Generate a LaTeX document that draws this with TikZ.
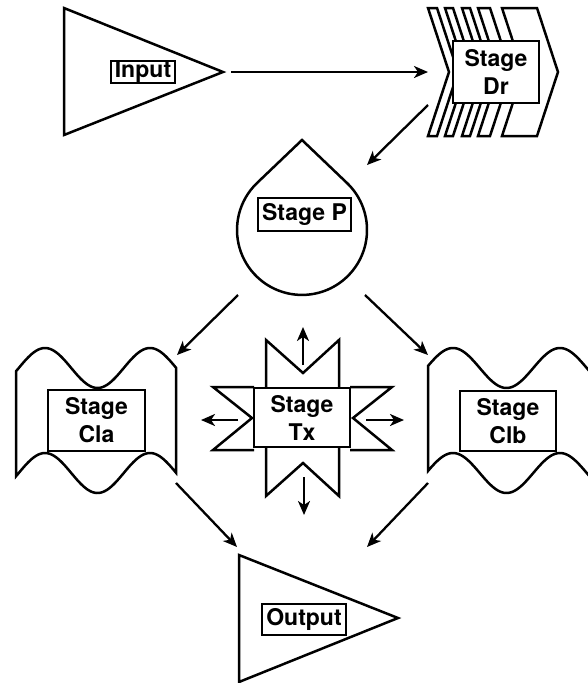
\documentclass[tikz,border=0pt]{standalone}
\usepackage{fontspec}
\setmainfont{TeX Gyre Heros}
\usetikzlibrary{arrows.meta}
\begin{document}
\begin{tikzpicture}[x=1pt,y=-1pt, line join=miter,
  shp/.style={draw=black, line width=2.5pt, fill=white},
  lbl/.style={draw=black, line width=2.5pt, fill=white, inner sep=0pt, align=center,
              font=\fontsize{23}{28}\selectfont\bfseries},
  arr/.style={line width=2.3pt, -{Stealth[length=14pt,width=12pt,inset=4pt]}}]
\useasboundingbox (0,0) rectangle (587,683);

% Input
\draw[shp] (64,8) -- (223,72) -- (64,135) -- cycle;
\node[lbl, minimum width=64, minimum height=21] (input) at (143,72) {Input};

% Stage Dr
\foreach \l/\r in {428/437,445/453,462/470,478/490,502/537}
  \draw[shp] (\l,8) -- (\r,8) -- ({\r+21},72) -- (\r,136) -- (\l,136) -- ({\l+21},72) -- cycle;
\node[lbl, minimum width=86, minimum height=62] (dr) at (496,72) {Stage\\Dr};

% Stage P
\draw[shp] (302,140) -- (347,183) arc[start angle=-46.2, end angle=226.2, radius=65] -- cycle;
\node[lbl, minimum width=93, minimum height=33] (p) at (304.5,214.5) {Stage P};

% Stage Cla
\draw[shp] plot[domain=16:176, samples=80] (\x,{368-20*cos((\x-45)*3.428571)})
  -- plot[domain=176:16, samples=80] (\x,{473-20*cos((\x-45)*3.428571)}) -- cycle;
\node[lbl, minimum width=97, minimum height=61] (cla) at (96.5,420.5) {Stage\\Cla};

% Stage Clb
\draw[shp] plot[domain=428:590, samples=80] (\x,{368-20*cos((\x-453)*3.364486)})
  -- plot[domain=590:428, samples=80] (\x,{473-20*cos((\x-453)*3.364486)}) -- cycle;
\node[lbl, minimum width=96, minimum height=60] (clb) at (508,421) {Stage\\Clb};

% Stage Tx
\draw[shp] (266,388) -- (266,340) -- (303,373) -- (339,340) -- (339,388);
\draw[shp] (254,387) -- (213,387) -- (252,418) -- (213,450) -- (254,450);
\draw[shp] (350,387) -- (392,387) -- (353,418) -- (392,450) -- (350,450);
\draw[shp] (266,447) -- (266,496) -- (303,463) -- (339,496) -- (339,447);
\node[lbl, minimum width=96, minimum height=59] (tx) at (302,417.5) {Stage\\Tx};

% Output
\draw[shp] (239,555) -- (398,618) -- (239,682) -- cycle;
\node[lbl, minimum width=84, minimum height=31] (output) at (304,619.5) {Output};

% connector end points
\coordinate (inR) at (231,72);   \coordinate (drL) at (428,72);
\coordinate (drB) at (428,105);  \coordinate (pT) at (367,165);
\coordinate (pBL) at (238,295);  \coordinate (claT) at (177,355);
\coordinate (pBR) at (365,295);  \coordinate (clbT) at (428,355);
\coordinate (txU0) at (303,365); \coordinate (txU1) at (303,327);
\coordinate (txL0) at (238,420); \coordinate (txL1) at (201,420);
\coordinate (txR0) at (366,420); \coordinate (txR1) at (404,420);
\coordinate (txD0) at (304,477); \coordinate (txD1) at (304,515);
\coordinate (claB) at (176,483); \coordinate (outL) at (237,547);
\coordinate (clbB) at (428,483); \coordinate (outR) at (367,547);

\draw[arr] (inR) -- (drL);
\draw[arr] (drB) -- (pT);
\draw[arr] (pBL) -- (claT);
\draw[arr] (pBR) -- (clbT);
\draw[arr] (txU0) -- (txU1);
\draw[arr] (txL0) -- (txL1);
\draw[arr] (txR0) -- (txR1);
\draw[arr] (txD0) -- (txD1);
\draw[arr] (claB) -- (outL);
\draw[arr] (clbB) -- (outR);
\end{tikzpicture}
\end{document}
